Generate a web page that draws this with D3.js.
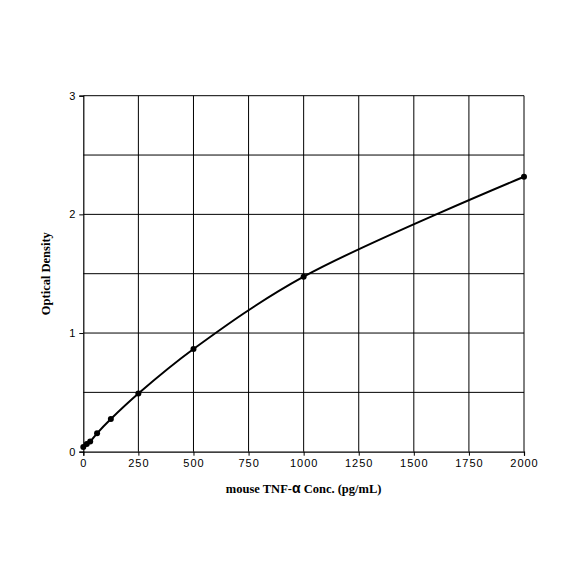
<!DOCTYPE html>
<html lang="en">
<head>
    <meta charset="UTF-8">
    <title>mouse TNF-alpha standard curve</title>
    <script src="https://d3js.org/d3.v7.min.js"></script>
    <style>
        body { margin: 0; background: #fff; }
    </style>
</head>
<body>
<svg id="chart"></svg>

<script>
    // standard curve values
    let concentrations = [0, 15.6, 31.25, 62.5, 125, 250, 500, 1000, 2000];
    let densities = [0.04, 0.065, 0.085, 0.155, 0.275, 0.49, 0.865, 1.475, 2.317];
    let xTicks = [0, 250, 500, 750, 1000, 1250, 1500, 1750, 2000];
    let yTicks = [0, 1, 2, 3];
    let yGrid = [0.5, 1, 1.5, 2, 2.5, 3];

    let width = 584,
        height = 584,
        margin = {top: 95.7, right: 60, bottom: 132.3, left: 83.3};

    let svg = d3.select("#chart")
        .attr("width", width)
        .attr("height", height);

    let x = d3.scaleLinear()
        .domain([0, 2000])
        .range([margin.left, width - margin.right]);

    let y = d3.scaleLinear()
        .domain([0, 3])
        .range([height - margin.bottom, margin.top]);

    // grid
    svg.append("g")
        .selectAll("line")
        .data(xTicks.slice(1))
        .enter().append("line")
        .attr("x1", d => x(d)).attr("x2", d => x(d))
        .attr("y1", y(0)).attr("y2", y(3))
        .attr("stroke", "#000")
        .attr("stroke-width", 1);

    svg.append("g")
        .selectAll("line")
        .data(yGrid)
        .enter().append("line")
        .attr("x1", x(0)).attr("x2", x(2000))
        .attr("y1", d => y(d)).attr("y2", d => y(d))
        .attr("stroke", "#000")
        .attr("stroke-width", 1);

    // axes
    let xAxis = d3.axisBottom(x)
        .tickValues(xTicks)
        .tickFormat(d3.format("d"))
        .tickSize(4)
        .tickPadding(4);

    let yAxis = d3.axisLeft(y)
        .tickValues(yTicks)
        .tickFormat(d3.format("d"))
        .tickSize(4)
        .tickPadding(3);

    let gx = svg.append("g")
        .attr("transform", "translate(0," + y(0) + ")")
        .call(xAxis);

    let gy = svg.append("g")
        .attr("transform", "translate(" + x(0) + ",0)")
        .call(yAxis);

    [gx, gy].forEach(function (g) {
        g.select(".domain").attr("stroke", "#000").attr("stroke-width", 1.2);
        g.selectAll(".tick line").attr("stroke", "#000");
        g.selectAll(".tick text")
            .attr("fill", "#000")
            .style("font-family", "'Liberation Sans', Arial, sans-serif")
            .style("font-size", "11px")
            .style("letter-spacing", "1px");
    });

    // standard curve
    let line = d3.line()
        .x((d, i) => x(concentrations[i]))
        .y(d => y(d))
        .curve(d3.curveCatmullRom);

    svg.append("path")
        .datum(densities)
        .attr("d", line)
        .attr("fill", "none")
        .attr("stroke", "#000")
        .attr("stroke-width", 2);

    svg.append("g")
        .selectAll("circle")
        .data(densities)
        .enter().append("circle")
        .attr("cx", (d, i) => x(concentrations[i]))
        .attr("cy", d => y(d))
        .attr("r", 3)
        .attr("fill", "#000");

    // axis titles
    let title = svg.append("text")
        .attr("x", (x(0) + x(2000)) / 2)
        .attr("y", 493)
        .attr("text-anchor", "middle")
        .style("font-family", "'Liberation Serif', 'Times New Roman', serif")
        .style("font-weight", "bold")
        .style("font-size", "12.5px");
    title.append("tspan").text("mouse TNF-");
    title.append("tspan")
        .style("font-family", "'Liberation Sans', Arial, sans-serif")
        .style("font-size", "14px")
        .text("α");
    title.append("tspan").text(" Conc. (pg/mL)");

    svg.append("text")
        .attr("transform", "translate(50," + ((y(0) + y(3)) / 2) + ") rotate(-90)")
        .attr("text-anchor", "middle")
        .style("font-family", "'Liberation Serif', 'Times New Roman', serif")
        .style("font-weight", "bold")
        .style("font-size", "12.5px")
        .text("Optical Density");
</script>
</body>
</html>
